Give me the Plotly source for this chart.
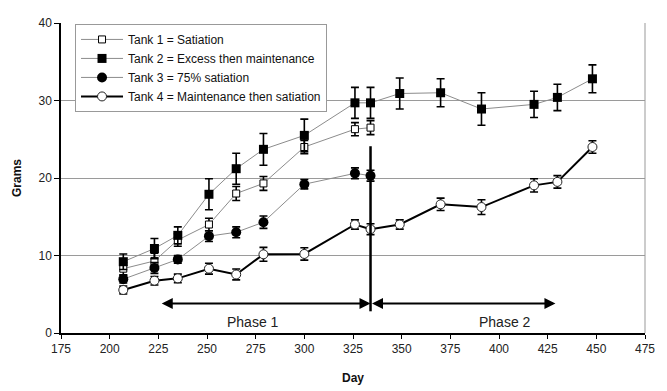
import plotly.graph_objects as go

# ---- data ----
days_p1 = [207, 223, 235, 251, 265, 279, 300, 326, 334]
days_all = [207, 223, 235, 251, 265, 279, 300, 326, 334, 349, 370, 391, 418, 430, 448]

tank1 = [8.3, 9.3, 12.0, 14.0, 18.0, 19.3, 24.0, 26.3, 26.5]
tank1_err = [0.8, 1.0, 0.8, 0.8, 0.9, 0.9, 0.85, 0.85, 0.9]

tank2 = [9.2, 10.9, 12.6, 17.9, 21.2, 23.7, 25.5, 29.7, 29.7, 30.9, 31.0, 28.9, 29.5, 30.4, 32.8]
tank2_err = [1.0, 1.3, 1.1, 2.0, 2.0, 2.05, 2.1, 2.0, 2.0, 2.0, 1.8, 2.1, 1.7, 1.7, 1.8]

tank3 = [6.95, 8.4, 9.5, 12.5, 13.0, 14.3, 19.2, 20.6, 20.3]
tank3_err = [0.5, 0.7, 0.5, 0.7, 0.7, 0.8, 0.6, 0.7, 0.7]

tank4 = [5.55, 6.75, 7.05, 8.3, 7.55, 10.15, 10.2, 14.0, 13.4, 14.0, 16.6, 16.25, 19.05, 19.5, 24.0]
tank4_err = [0.5, 0.55, 0.55, 0.7, 0.7, 0.9, 0.8, 0.6, 0.7, 0.6, 0.8, 0.95, 0.85, 0.8, 0.8]

names = ["Tank 1 = Satiation", "Tank 2 = Excess then maintenance",
         "Tank 3 = 75% satiation", "Tank 4 = Maintenance then satiation"]

phase_change_day = 334
phase_line_y = [2.8, 24.1]
phase1_range = [226, 334]
phase2_range = [334, 429]
arrow_y = 3.8
phase_labels = ["Phase 1", "Phase 2"]
phase_label_x = [273.5, 403]
phase_label_y = 1.4

x_ticks = list(range(175, 476, 25))
y_ticks = [0, 10, 20, 30, 40]

FONT = "Liberation Sans, Arial, sans-serif"
THIN = "#8c8c8c"

def errs(vals):
    return dict(type="data", array=vals, visible=True, color="black",
                thickness=1.6, width=4)

fig = go.Figure()
fig.add_trace(go.Scatter(
    x=days_p1, y=tank1, error_y=errs(tank1_err), name=names[0], mode="lines+markers",
    line=dict(color=THIN, width=1),
    marker=dict(symbol="square", size=7, color="white", line=dict(color="black", width=1))))
fig.add_trace(go.Scatter(
    x=days_all, y=tank2, error_y=errs(tank2_err), name=names[1], mode="lines+markers",
    line=dict(color=THIN, width=1),
    marker=dict(symbol="square", size=9, color="black", line=dict(color="black", width=0))))
fig.add_trace(go.Scatter(
    x=days_p1, y=tank3, error_y=errs(tank3_err), name=names[2], mode="lines+markers",
    line=dict(color=THIN, width=1),
    marker=dict(symbol="circle", size=10, color="black", line=dict(color="black", width=0))))
fig.add_trace(go.Scatter(
    x=days_all, y=tank4, error_y=errs(tank4_err), name=names[3], mode="lines+markers",
    line=dict(color="black", width=2),
    marker=dict(symbol="circle", size=9, color="white", line=dict(color="#222", width=1))))

# phase divider
fig.add_shape(type="line", x0=phase_change_day, x1=phase_change_day,
              y0=phase_line_y[0], y1=phase_line_y[1], xref="x", yref="y",
              line=dict(color="black", width=2.5))
# plot frame (right side)
fig.add_shape(type="line", x0=1, x1=1, y0=0, y1=1, xref="paper", yref="paper",
              line=dict(color="#999", width=1))

annotations = []
for rng in (phase1_range, phase2_range):
    annotations.append(dict(x=rng[1], y=arrow_y, ax=rng[0], ay=arrow_y,
                            xref="x", yref="y", axref="x", ayref="y",
                            showarrow=True, arrowhead=2, arrowside="end+start",
                            arrowsize=1.1, arrowwidth=2, arrowcolor="black", text=""))
for lbl, lx in zip(phase_labels, phase_label_x):
    annotations.append(dict(x=lx, y=phase_label_y, xref="x", yref="y", text=lbl,
                            showarrow=False, font=dict(size=14, color="#222", family=FONT)))

# page body has an 8px margin, so the figure is shrunk by 8px to fit the window
fig.update_layout(
    width=659, height=383,
    margin=dict(l=51, r=22, t=8, b=52),
    paper_bgcolor="white", plot_bgcolor="white",
    font=dict(family=FONT, size=12, color="#222"),
    annotations=annotations,
    legend=dict(x=0.024, y=0.997, xanchor="left", yanchor="top",
                bgcolor="white", bordercolor="#999", borderwidth=1,
                font=dict(size=12, color="#111", family=FONT),
                tracegroupgap=0, itemwidth=42),
    xaxis=dict(range=[175, 475], tickvals=x_ticks, showgrid=False, zeroline=False,
               showline=True, linecolor="black", linewidth=1.5,
               ticks="outside", ticklen=4, tickcolor="black",
               title=dict(text="<b>Day</b>", font=dict(size=12, color="#111"), standoff=18)),
    yaxis=dict(range=[0, 40], tickvals=y_ticks, showgrid=True, gridcolor="#9a9a9a",
               gridwidth=1, zeroline=False,
               showline=True, linecolor="black", linewidth=1.5,
               ticks="outside", ticklen=5, tickcolor="black",
               title=dict(text="<b>Grams</b>", font=dict(size=12, color="#111"), standoff=14)),
)

fig.write_html("out.html")
